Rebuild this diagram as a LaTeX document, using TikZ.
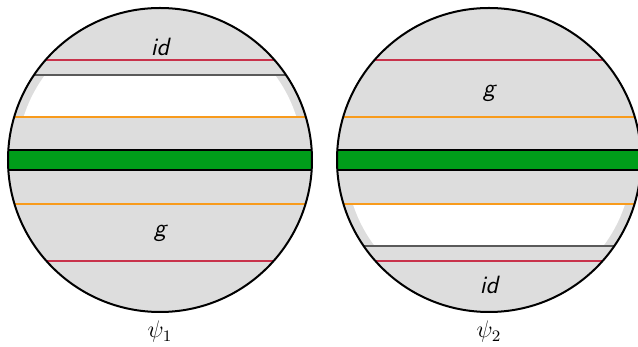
\documentclass[tikz,border=0pt]{standalone}
\usepackage{tikz}
\definecolor{disc100}  {HTML}{DDDDDD}
\definecolor{red600}   {HTML}{C8324B}
\definecolor{orange500}{HTML}{F89B1C}
\definecolor{green600} {HTML}{009E1A}
\definecolor{grey600}  {HTML}{5A5A5A}
\tikzset{
  disc/.style     ={fill=disc100},
  rim/.style      ={draw=black, line width=1pt},
  redline/.style  ={draw=red600, line width=1.1pt},
  orline/.style   ={draw=orange500, line width=1.1pt},
  greyline/.style ={draw=grey600, line width=0.8pt},
  band/.style     ={fill=green600, draw=black, line width=0.8pt},
  lbl/.style      ={font=\sffamily\itshape\fontsize{12.5}{15}\selectfont,
                    inner sep=1pt},
  psilbl/.style   ={font=\large, inner sep=1pt}
}
\begin{document}
\begin{tikzpicture}[x=0.5pt,y=0.5pt]
\useasboundingbox (-160,-187) rectangle (478,160);
% one disc per map: white strip between the orange line and the grey line
\foreach \i/\cx/\wa/\wb/\gy/\iy in {1/0/43/85/-73/113,
                                   2/329/-44/-86/67/-125}
{
  \begin{scope}[shift={(\cx,0)}]
    \begin{scope}
      \clip (0,0) circle (152);
      \fill[disc] (0,0) circle (152);
      \begin{scope}
        \clip (0,0) circle (143);
        \fill[white] (-160,\wa) rectangle (160,\wb);
      \end{scope}
      \draw[redline] (-160,100) -- (160,100);
      \draw[redline] (-160,-101) -- (160,-101);
      \draw[orline] (-160,43) -- (160,43);
      \draw[orline] (-160,-44) -- (160,-44);
      \draw[greyline] (-160,\wb) -- (160,\wb);
      \draw[band] (-165,-10) rectangle (165,10);
    \end{scope}
    \draw[rim] (0,0) circle (152);
    \node[lbl] (g-\i)  at (0,\gy) {g};
    \node[lbl] (id-\i) at (0,\iy) {id};
    \node[psilbl] (psi-\i) at (0,-172) {$\psi_\i$};
  \end{scope}
}
\end{tikzpicture}
\end{document}
